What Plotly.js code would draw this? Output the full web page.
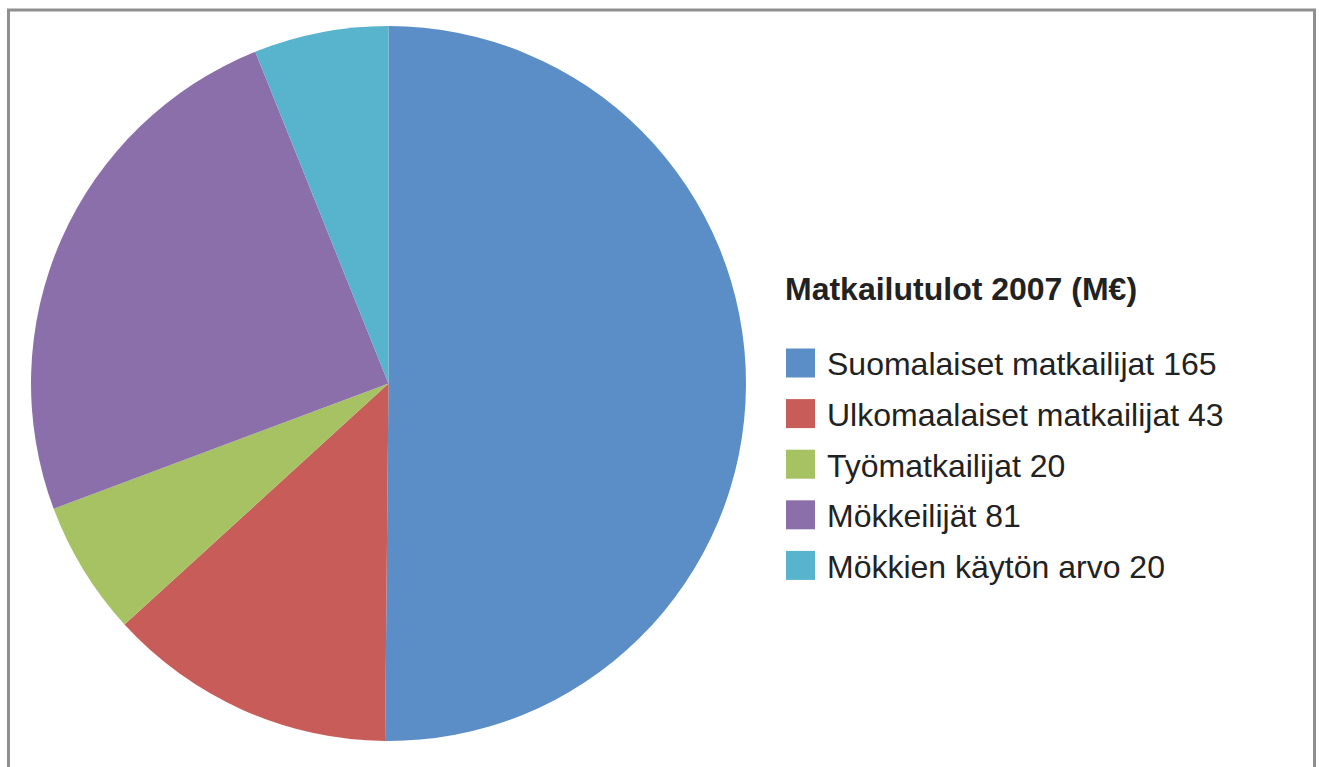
<!DOCTYPE html>
<html><head><meta charset="utf-8">
<script src="https://cdn.plot.ly/plotly-3.0.1.min.js"></script>
<style>html,body{margin:0;padding:0;background:#fff;}#chart{width:1319px;height:767px;}</style>
</head><body><div id="chart"></div>
<script>
const categories = ["Suomalaiset matkailijat", "Ulkomaalaiset matkailijat", "Työmatkailijat", "Mökkeilijät", "Mökkien käytön arvo"];
const values = [165, 43, 20, 81, 20];
const colors = ["#5B8EC6", "#C85C59", "#A7C263", "#8B6FAA", "#58B3CC"];
const legendTitle = "Matkailutulot 2007 (M€)";

const labels = categories.map((c, i) => c + " " + values[i]);
const W = 1319, H = 767;

const trace = {
  type: "pie",
  labels: labels,
  values: values,
  sort: false,
  direction: "clockwise",
  rotation: 0,
  textinfo: "none",
  hoverinfo: "label+percent",
  marker: {colors: colors, line: {width: 0}},
  domain: {x: [31/W, 746/W], y: [1 - 741/H, 1 - 26/H]}
};

const layout = {
  width: W, height: H,
  margin: {l: 0, r: 0, t: 0, b: 0},
  paper_bgcolor: "#fff",
  font: {family: "Liberation Sans, Arial, sans-serif", color: "#222"},
  showlegend: true,
  legend: {
    x: 783/W, xanchor: "left",
    y: 1 - 258/H, yanchor: "top",
    font: {size: 32, color: "#222"},
    title: {text: "<b>" + legendTitle + "</b>", side: "top", font: {size: 32, color: "#222", family: "Liberation Sans, Arial, sans-serif"}},
    itemwidth: 34,
    tracegroupgap: 0,
    bgcolor: "rgba(0,0,0,0)"
  },
  shapes: [{
    type: "rect", xref: "paper", yref: "paper",
    x0: 8.5/W, x1: 1314.5/W, y0: -0.05, y1: 1 - 10/H,
    line: {color: "#8F8F8F", width: 3}, fillcolor: "rgba(0,0,0,0)", layer: "below"
  }]
};

// legend layout tuning (screen px)
const firstItemCenter = 363, itemStep = 50.6, swatch = 29, swatchGap = 12;

Plotly.newPlot("chart", [trace], layout, {displayModeBar: false, staticPlot: true}).then(function(gd){
  gd.querySelectorAll(".legend [clip-path]").forEach(function(el){ el.removeAttribute("clip-path"); });
  const items = gd.querySelectorAll(".legend .traces");
  items.forEach(function(g, i){
    const tr = (g.getAttribute("transform") || "").match(/translate\(\s*([-\d.e]+)[ ,]+([-\d.e]+)\s*\)/);
    const tx = tr ? parseFloat(tr[1]) : 0, ty = tr ? parseFloat(tr[2]) : 0;
    const cur = g.getScreenCTM().f;
    const want = firstItemCenter + i * itemStep;
    g.setAttribute("transform", "translate(" + tx + "," + (ty + want - cur) + ")");
    const text = g.querySelector("text.legendtext");
    const path = g.querySelector(".legendpoints path");
    if (text && path) {
      path.removeAttribute("transform");
      const tl = text.getBoundingClientRect().left;
      const ctm = path.getScreenCTM();
      const right = tl - swatchGap - ctm.e, left = right - swatch;
      const cy = want - ctm.f, h = swatch / 2;
      path.setAttribute("d", "M" + left + "," + (cy - h) + "H" + right + "V" + (cy + h) + "H" + left + "Z");
    }
  });
});
</script></body></html>
